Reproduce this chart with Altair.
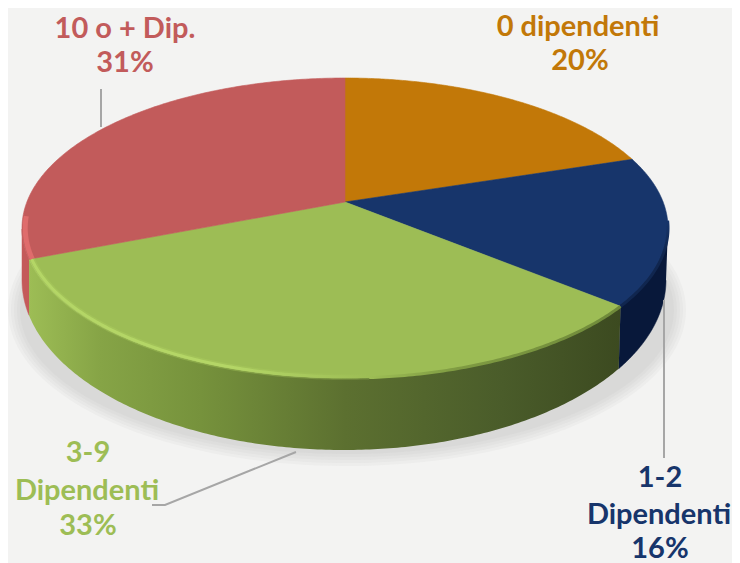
import numpy as np
import pandas as pd
import altair as alt

# --- data ---
names = ["0 dipendenti", "1-2 Dipendenti", "3-9 Dipendenti", "10 o + Dip."]
values = [20, 16, 33, 31]
top_colors = ["#c27808", "#17356b", "#9dbd55", "#c25b5b"]

W, H = 724, 555
BG = "#f3f3f2"
x_s = alt.Scale(domain=[8, 8 + W], range=[0, W], nice=False, zero=False)
y_s = alt.Scale(domain=[8, 8 + H], range=[0, H], nice=False, zero=False)

# geometry of the tilted disc
TOP = (345.0, 228.0, 323.0, 150.0)
BOT = (344.0, 280.0, 322.0, 170.0)
A = 26.0 / 150.0


def unit(f):
    """Perspective map of the pie fraction f on to the unit disc."""
    t = 2 * np.pi * np.asarray(f)
    x, y = np.sin(t), np.cos(t)
    d = 1 + A * y
    return x * np.sqrt(1 - A * A) / d, (y + A) / d


def place(ux, uy, geo):
    cx, cy, rx, ry = geo
    return cx + rx * np.asarray(ux), cy - ry * np.asarray(uy)


def poly(xs, ys, **mark):
    df = pd.DataFrame({"x": xs, "y": ys, "o": np.arange(len(xs))})
    return alt.Chart(df).mark_line(**mark).encode(
        x=alt.X("x:Q", scale=x_s, axis=None),
        y=alt.Y("y:Q", scale=y_s, axis=None),
        order="o:Q",
    )


def grad(stops, x1=0, x2=1, y1=0, y2=0):
    return alt.Gradient(
        gradient="linear", x1=x1, x2=x2, y1=y1, y2=y2,
        stops=[alt.GradientStop(offset=o, color=c) for o, c in stops],
    )


cum = np.concatenate([[0], np.cumsum(values)]) / float(sum(values))
layers = []

# soft shadow under the disc
for grow in [14, 11, 8, 5, 2]:
    t = np.linspace(0, 2 * np.pi, 160)
    sx = 347 + (325 + grow) * np.cos(t)
    sy = 310 + (142 + grow) * np.sin(t)
    layers.append(poly(sx, sy, fill="#8c8c8c", fillOpacity=0.055, strokeWidth=0, stroke="#8c8c8c"))

# side walls
wall_fill = {
    1: "#08183a",
    2: grad([(0, "#9dbd55"), (0.12, "#86a446"), (0.29, "#76923c"), (0.535, "#5c7030"),
             (0.8, "#4a5c2a"), (1, "#3c4a20")]),
    3: "#c45a5a",
}
for i, fill in wall_fill.items():
    f = np.linspace(cum[i], cum[i + 1], 200)
    ux, uy = unit(f)
    keep = uy <= 0
    ux, uy = ux[keep], uy[keep]
    tx, ty = place(ux, uy, TOP)
    bx, by = place(ux, uy, BOT)
    layers.append(poly(np.r_[tx, bx[::-1]], np.r_[ty, by[::-1]],
                       fill=fill, stroke=fill if isinstance(fill, str) else "#5b7030",
                       strokeWidth=0 if not isinstance(fill, str) else 0.5))

# top faces
apex_u = (0.0, A)
for i, color in enumerate(top_colors):
    f = np.linspace(cum[i], cum[i + 1], 160)
    ux, uy = unit(f)
    px, py = place(np.r_[apex_u[0], ux, apex_u[0]], np.r_[apex_u[1], uy, apex_u[1]], TOP)
    layers.append(poly(px, py, fill=color, stroke=color, strokeWidth=0.6))

# soft rim between top face and wall, right-hand part
f = np.linspace(cum[2], cum[2] + 0.13, 80)
ux, uy = unit(f)
px, py = place(ux, uy, TOP)
layers.append(poly(px, py, strokeWidth=3,
                   stroke=grad([(0, "#9dbd55"), (0.35, "#7f9b42"), (1, "#6f8a3a")])))
f = np.linspace(0.27, cum[2], 50)
ux, uy = unit(f)
px, py = place(ux, uy, TOP)
layers.append(poly(px, py, strokeWidth=3,
                   stroke=grad([(0, "#17356b"), (0.35, "#10264f"), (1, "#10264f")], x1=0, x2=0, y1=0, y2=1)))

# bevel highlights on the rim
f = np.linspace(cum[2] + 0.13, cum[3], 120)
ux, uy = unit(f)
px, py = place(ux * 0.992, uy * 0.992, TOP)
layers.append(poly(px, py, strokeWidth=6, strokeOpacity=0.35,
                   stroke=grad([(0, "#aed05f"), (0.6, "#aed05f"), (1, "#9dbd55")])))
layers.append(poly(px, py, strokeWidth=3,
                   stroke=grad([(0, "#b4d666"), (0.6, "#b4d666"), (1, "#9dbd55")])))
f = np.linspace(cum[3], cum[3] + 0.045, 40)
ux, uy = unit(f)
px, py = place(ux * 0.99, uy * 0.99, TOP)
layers.append(poly(px, py, stroke="#df6c6c", strokeWidth=5))

# leader lines
for lx, ly in [([101, 101], [89, 127]),
               ([664, 664], [300, 458]),
               ([296, 165, 152], [452, 505, 505])]:
    layers.append(poly(lx, ly, stroke="#a6a6a6", strokeWidth=2))

# labels
label_text = ["10 o + Dip.", "31%", "0 dipendenti", "20%", "3-9", "Dipendenti", "33%",
              "1-2", "Dipendenti", "16%"]
label_x = [125, 125, 578, 580, 88, 87, 88, 660, 659, 660]
label_y = [29, 63, 27, 61, 453, 491, 526, 478, 515, 549]
label_c = [top_colors[3]] * 2 + [top_colors[0]] * 2 + [top_colors[2]] * 3 + [top_colors[1]] * 3
labels = pd.DataFrame({"t": label_text, "x": label_x, "y": label_y, "c": label_c})
layers.append(
    alt.Chart(labels).mark_text(font="Lato", fontWeight="bold", fontSize=29, baseline="middle", align="center")
    .encode(
        x=alt.X("x:Q", scale=x_s, axis=None),
        y=alt.Y("y:Q", scale=y_s, axis=None),
        text="t:N",
        color=alt.Color("c:N", scale=None),
    )
)

chart = (
    alt.layer(*layers)
    .properties(width=W, height=H, background=BG, padding=0,
                autosize=alt.AutoSizeParams(type="none"))
    .configure_view(stroke=None)
)
chart.save("out.html", embed_options={"renderer": "svg", "actions": False})
